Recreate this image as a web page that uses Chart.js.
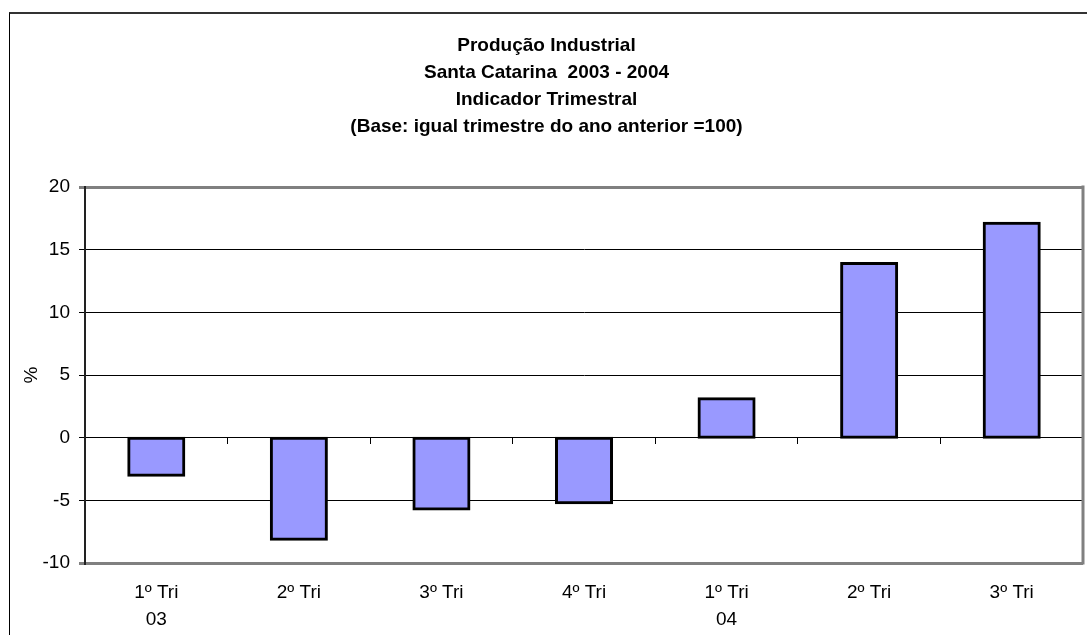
<!DOCTYPE html>
<html>
<head>
	<meta charset="utf-8">
	<title>Produção Industrial - Santa Catarina</title>
	<script src="https://cdn.jsdelivr.net/npm/chart.js"></script>
	<style>
		body { margin: 0; background: #fff; overflow: hidden; }
		#moldura {
			position: absolute; left: 9px; top: 12px; width: 1100px; height: 700px;
			border-left: 1px solid #000; border-top: 2px solid #333;
		}
		#grafico { position: absolute; left: 10px; top: 14px; }
	</style>
</head>
<body>

	<div id="moldura"></div>
	<canvas id="grafico" width="1077" height="621"></canvas>

	<script>
		// dados
		var trimestres = [['1º Tri', '03'], ['2º Tri'], ['3º Tri'], ['4º Tri'], ['1º Tri', '04'], ['2º Tri'], ['3º Tri']];
		var variacao = [-3.0, -8.1, -5.7, -5.2, 3.1, 13.9, 17.1];
		var eixoY = { min: -10, max: 20, passo: 5 };
		var titulo = ['Produção Industrial', 'Santa Catarina  2003 - 2004', 'Indicador Trimestral', '(Base: igual trimestre do ano anterior =100)'];

		var fonte = "'Liberation Sans', Arial, sans-serif";
		Chart.defaults.font.family = fonte;
		Chart.defaults.color = '#000';

		// borda direita da área de plotagem
		var bordaDireita = {
			id: 'bordaDireita',
			beforeDatasetsDraw: function (chart) {
				var a = chart.chartArea, c = chart.ctx;
				c.save();
				c.strokeStyle = '#808080';
				c.lineWidth = 3;
				c.beginPath();
				c.moveTo(a.right, a.top - 1.5);
				c.lineTo(a.right, a.bottom + 1.5);
				c.stroke();
				c.restore();
			}
		};

		function borda(v) { return v === eixoY.min || v === eixoY.max; }

		var ctx = document.getElementById('grafico').getContext('2d');
		var chart = new Chart(ctx, {
			type: 'bar',
			data: {
				labels: trimestres,
				datasets: [{
					label: '%',
					data: variacao,
					backgroundColor: '#9999FF',
					borderColor: '#000',
					borderWidth: 3,
					borderSkipped: false,
					inflateAmount: 1.5,
					barPercentage: 0.386,
					categoryPercentage: 1
				}]
			},
			options: {
				responsive: false,
				animation: false,
				devicePixelRatio: 1,
				layout: { padding: { left: 0, right: 4, top: 0, bottom: 0 } },
				plugins: {
					legend: { display: false },
					tooltip: { enabled: false },
					title: {
						display: true,
						text: titulo,
						color: '#000',
						font: { size: 19, weight: 'bold', lineHeight: '27px' },
						padding: { top: 18.5, bottom: 46.5 }
					}
				},
				scales: {
					x: {
						type: 'category',
						offset: true,
						grid: { display: false, offset: true, drawTicks: false },
						border: { display: false },
						ticks: { font: { size: 19, lineHeight: '27px' }, padding: 16.5, maxRotation: 0, autoSkip: false },
						afterFit: function (s) { s.height = 72; }
					},
					x2: {
						type: 'category',
						position: { y: 0 },
						offset: true,
						grid: { drawOnChartArea: false, offset: true, drawTicks: true, tickLength: 6, color: '#000', lineWidth: 1 },
						border: { display: true, color: '#000', width: 1 },
						ticks: { display: false }
					},
					y: {
						min: eixoY.min,
						max: eixoY.max,
						ticks: { stepSize: eixoY.passo, font: { size: 19 }, padding: 9 },
						grid: {
							color: function (c) { return borda(c.tick.value) ? '#808080' : '#000'; },
							lineWidth: function (c) { return borda(c.tick.value) ? 3 : 1; },
							tickLength: 6
						},
						border: { display: true, color: '#222', width: 2 },
						title: { display: true, text: '%', font: { size: 19 }, padding: { top: 10, bottom: 0 } },
						afterFit: function (s) { s.width = 75; }
					}
				}
			},
			plugins: [bordaDireita]
		});
	</script>

</body>
</html>
